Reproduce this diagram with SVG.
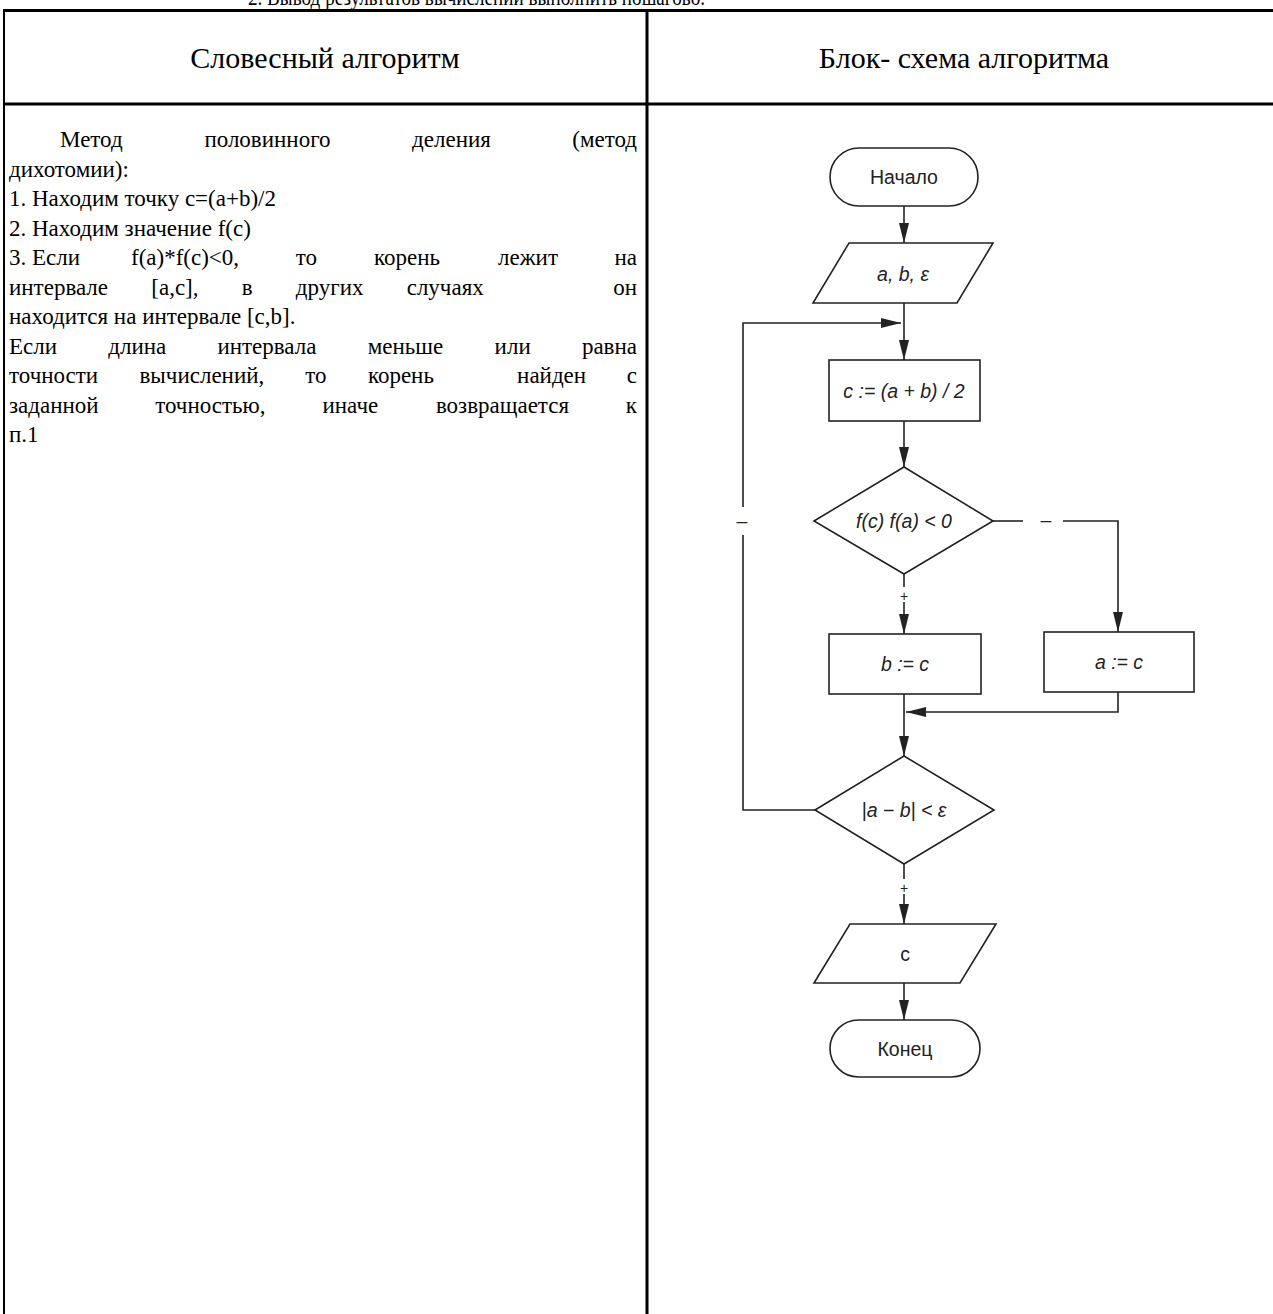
<svg xmlns="http://www.w3.org/2000/svg" width="1273" height="1314" viewBox="0 0 1273 1314">
<style>
.tbl{stroke:#000;stroke-width:3;fill:none}
.serif text{font-family:"Liberation Serif","Times New Roman",serif;font-size:23px;fill:#000}
.hdr text{font-family:"Liberation Serif","Times New Roman",serif;font-size:30px;fill:#000;text-anchor:middle}
.shape{fill:#fff;stroke:#222;stroke-width:1.6}
.lbl{font-family:"Liberation Sans",Arial,sans-serif;font-size:19.5px;fill:#222;text-anchor:middle}
.it{font-style:italic}
.sm{font-size:14px}
.conn{fill:none;stroke:#222;stroke-width:1.6}
</style>
<defs>
<marker id="arr" markerUnits="userSpaceOnUse" markerWidth="20" markerHeight="10" refX="20" refY="5" orient="auto">
<path d="M0,0 L20,5 L0,10 z" fill="#222"/>
</marker>
</defs>
<rect width="1273" height="1314" fill="#fff"/>
<g class="serif">
<text x="248" y="5" textLength="457" lengthAdjust="spacingAndGlyphs">2. Вывод результатов вычислений выполнить пошагово.</text>
</g>
<g id="table">
<line class="tbl" x1="3" y1="10.5" x2="1273" y2="10.5"/>
<line class="tbl" x1="3" y1="104" x2="1273" y2="104"/>
<line class="tbl" x1="4" y1="9" x2="4" y2="1314" style="stroke-width:2"/>
<line class="tbl" x1="647" y1="9" x2="647" y2="1314"/>
</g>
<g id="header" class="hdr">
<text x="325" y="68">Словесный алгоритм</text>
<text x="964" y="68">Блок- схема алгоритма</text>
</g>
<g id="verbal" class="serif">
<text x="60" y="147">Метод</text>
<text x="204.4" y="147">половинного</text>
<text x="412.1" y="147">деления</text>
<text x="637" y="147" text-anchor="end">(метод</text>
<text x="9" y="177">дихотомии):</text>
<text x="9" y="206">1. Находим точку c=(a+b)/2</text>
<text x="9" y="236">2. Находим значение f(c)</text>
<text x="9" y="265">3. Если</text>
<text x="131" y="265">f(a)*f(c)&lt;0,</text>
<text x="295.8" y="265">то</text>
<text x="374.1" y="265">корень</text>
<text x="498" y="265">лежит</text>
<text x="637" y="265" text-anchor="end">на</text>
<text x="9" y="295">интервале</text>
<text x="151.3" y="295">[a,c],</text>
<text x="241.7" y="295">в</text>
<text x="295.8" y="295">других</text>
<text x="406.7" y="295">случаях</text>
<text x="637" y="295" text-anchor="end">он</text>
<text x="9" y="324">находится на интервале [c,b].</text>
<text x="9" y="354">Если</text>
<text x="108.3" y="354">длина</text>
<text x="217.4" y="354">интервала</text>
<text x="367.8" y="354">меньше</text>
<text x="494.6" y="354">или</text>
<text x="637" y="354" text-anchor="end">равна</text>
<text x="9" y="383">точности</text>
<text x="139.5" y="383">вычислений,</text>
<text x="305.3" y="383">то</text>
<text x="367.9" y="383">корень</text>
<text x="517.1" y="383">найден</text>
<text x="637" y="383" text-anchor="end">с</text>
<text x="9" y="413">заданной</text>
<text x="155.2" y="413">точностью,</text>
<text x="322.5" y="413">иначе</text>
<text x="435.9" y="413">возвращается</text>
<text x="637" y="413" text-anchor="end">к</text>
<text x="9" y="442">п.1</text>
</g>
<g id="connectors">
<line class="conn" x1="904" y1="206" x2="904" y2="243" marker-end="url(#arr)"/>
<line class="conn" x1="904" y1="303" x2="904" y2="360" marker-end="url(#arr)"/>
<path class="conn" d="M815,810 H743 V535"/>
<path class="conn" d="M743,507 V323 H901" marker-end="url(#arr)"/>
<text class="lbl" x="742" y="528">–</text>
<line class="conn" x1="904" y1="421" x2="904" y2="467" marker-end="url(#arr)"/>
<line class="conn" x1="904" y1="574" x2="904" y2="587"/>
<text class="lbl sm" x="904" y="601">+</text>
<line class="conn" x1="904" y1="602" x2="904" y2="634" marker-end="url(#arr)"/>
<line class="conn" x1="993" y1="521" x2="1023" y2="521"/>
<text class="lbl" x="1046" y="527">–</text>
<path class="conn" d="M1063,521 H1118 V632" marker-end="url(#arr)"/>
<line class="conn" x1="904" y1="694" x2="904" y2="756" marker-end="url(#arr)"/>
<path class="conn" d="M1118,692 V712 H906" marker-end="url(#arr)"/>
<line class="conn" x1="904" y1="864" x2="904" y2="879"/>
<text class="lbl sm" x="904" y="893">+</text>
<line class="conn" x1="904" y1="894" x2="904" y2="924" marker-end="url(#arr)"/>
<line class="conn" x1="904" y1="983" x2="904" y2="1020" marker-end="url(#arr)"/>
</g>
<g id="start">
<rect class="shape" x="830" y="148" width="148" height="58" rx="29"/>
<text class="lbl" x="904" y="184">Начало</text>
</g>
<g id="input">
<polygon class="shape" points="849,243 993,243 957,303 813,303"/>
<text class="lbl it" x="903" y="281">a, b, ε</text>
</g>
<g id="midpoint">
<rect class="shape" x="829" y="360" width="151" height="61"/>
<text class="lbl it" x="904" y="398">c := (a + b) / 2</text>
</g>
<g id="cond1">
<polygon class="shape" points="814,521 904,467 993,521 904,574"/>
<text class="lbl it" x="904" y="528">f(c) f(a) &lt; 0</text>
</g>
<g id="setb">
<rect class="shape" x="829" y="634" width="152" height="60"/>
<text class="lbl it" x="905" y="671">b := c</text>
</g>
<g id="seta">
<rect class="shape" x="1044" y="632" width="150" height="60"/>
<text class="lbl it" x="1119" y="669">a := c</text>
</g>
<g id="cond2">
<polygon class="shape" points="815,810 904,756 994,810 904,864"/>
<text class="lbl it" x="904" y="817">|a − b| &lt; ε</text>
</g>
<g id="output">
<polygon class="shape" points="850,924 996,924 960,983 814,983"/>
<text class="lbl" x="905" y="961">c</text>
</g>
<g id="end">
<rect class="shape" x="830" y="1020" width="150" height="57" rx="28.5"/>
<text class="lbl" x="905" y="1056">Конец</text>
</g>
</svg>
